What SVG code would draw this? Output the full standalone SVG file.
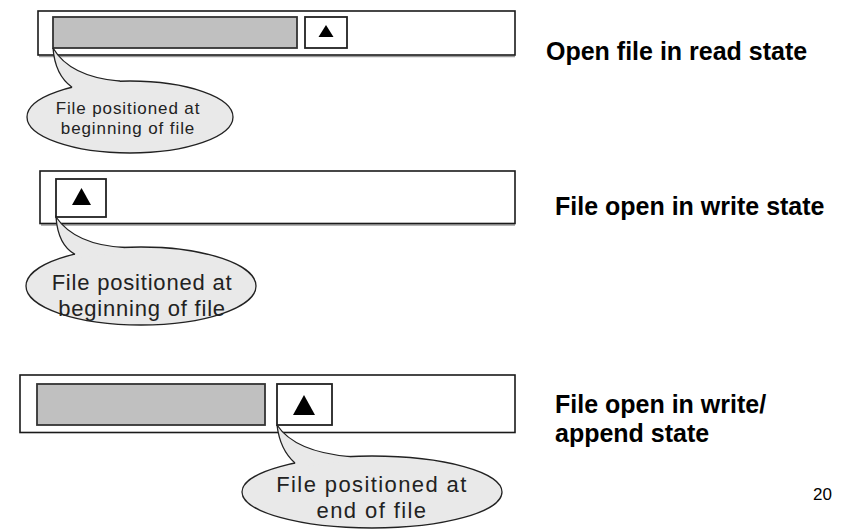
<svg xmlns="http://www.w3.org/2000/svg" width="854" height="529" viewBox="0 0 854 529">
  <style>
    .panel { fill: #ffffff; stroke: #1a1a1a; stroke-width: 1.6; }
    .shadow { stroke: #9a9a9a; stroke-width: 1.5; }
    .data { fill: #c0c0c0; stroke: #333333; stroke-width: 1.8; }
    .cursor { fill: #ffffff; stroke: #222222; stroke-width: 1.8; }
    .mark { fill: #000000; }
    .bubble { fill: #e9e9e9; stroke: #222222; stroke-width: 1.3; }
    .tailfill { fill: #e9e9e9; stroke: none; }
    .tailedge { fill: none; stroke: #222222; stroke-width: 1.3; }
    .note { font-family: "Liberation Sans", Arial, sans-serif; fill: #222222; text-anchor: middle; }
    .label { font-family: "Liberation Sans", Arial, sans-serif; font-weight: bold; font-size: 25px; fill: #000000; }
    .page { font-family: "Liberation Sans", Arial, sans-serif; font-size: 17px; fill: #000000; }
  </style>

  <!-- Read state: data present, cursor at start -->
  <g id="panel-read">
    <line class="shadow" x1="39" y1="56.5" x2="515" y2="56.5"/>
    <rect class="panel" x="38" y="11" width="477" height="44"/>
    <rect class="data" x="53" y="17" width="244" height="31"/>
    <rect class="cursor" x="305" y="17" width="42" height="31"/>
    <polygon class="mark" points="326,25 333.5,37 318.5,37"/>
  </g>
  <g id="note-read">
    <ellipse class="bubble" cx="130" cy="117" rx="103" ry="36"/>
    <path class="tailfill" d="M53,48 Q55,75 72,87.2 L74,91 L120,85 L120,81.2 Q70,77 53,48 Z"/>
    <path class="tailedge" d="M72,87.2 Q55,75 53,48 Q70,77 120,81.2"/>
    <text class="note" font-size="17" letter-spacing="0.9" x="128" y="114">File positioned at</text>
    <text class="note" font-size="17" letter-spacing="0.9" x="128" y="134">beginning of file</text>
  </g>
  <text id="label-read" class="label" x="546" y="60">Open file in read state</text>

  <!-- Write state: empty file, cursor at start -->
  <g id="panel-write">
    <line class="shadow" x1="41" y1="225" x2="515" y2="225"/>
    <rect class="panel" x="40" y="171" width="475" height="52.5"/>
    <rect class="cursor" x="56" y="179" width="50" height="38"/>
    <polygon class="mark" points="81.5,188 91,205 72,205"/>
  </g>
  <g id="note-write">
    <ellipse class="bubble" cx="141" cy="286" rx="115" ry="39"/>
    <path class="tailfill" d="M56,217 Q58,245 75,254.4 L77,258 L125,252 L125,247.6 Q75,245 56,217 Z"/>
    <path class="tailedge" d="M75,254.4 Q58,245 56,217 Q75,245 125,247.6"/>
    <text class="note" font-size="22" letter-spacing="0.8" x="142" y="290">File positioned at</text>
    <text class="note" font-size="22" letter-spacing="0.8" x="142" y="316">beginning of file</text>
  </g>
  <text id="label-write" class="label" x="555" y="215">File open in write state</text>

  <!-- Write/append state: data present, cursor after it -->
  <g id="panel-append">
    <rect class="panel" x="20" y="375" width="495" height="57.5"/>
    <rect class="data" x="37" y="384" width="228" height="41"/>
    <rect class="cursor" x="277" y="384" width="55" height="41"/>
    <polygon class="mark" points="304,395 315,415 293,415"/>
  </g>
  <g id="note-append">
    <ellipse class="bubble" cx="372" cy="492" rx="130" ry="36"/>
    <path class="tailfill" d="M277,425 Q280,450 295,463 L297,467 L350,461 L350,456.6 Q295,452 277,425 Z"/>
    <path class="tailedge" d="M295,463 Q280,450 277,425 Q295,452 350,456.6"/>
    <text class="note" font-size="22" letter-spacing="1.4" x="372" y="492">File positioned at</text>
    <text class="note" font-size="22" letter-spacing="1.4" x="372" y="518">end of file</text>
  </g>
  <text id="label-append" class="label" x="555" y="413">File open in write/<tspan x="555" dy="29">append state</tspan></text>

  <text id="page-number" class="page" x="813" y="500">20</text>
</svg>
